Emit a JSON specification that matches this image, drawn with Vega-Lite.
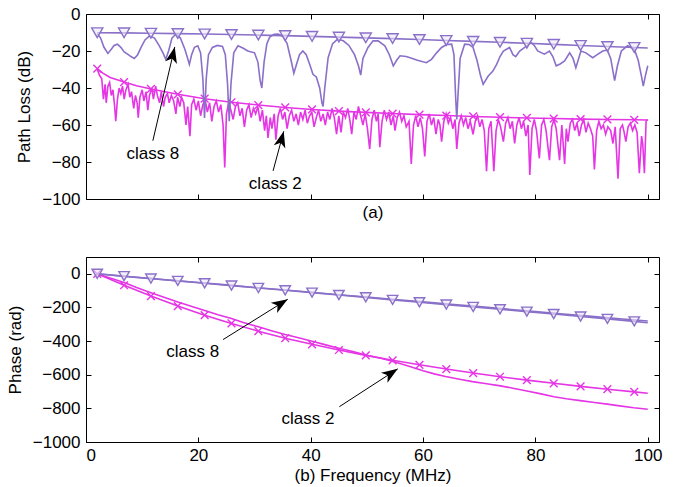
{
  "$schema": "https://vega.github.io/schema/vega-lite/v6.json",
  "padding": {"left": 5, "top": 4, "right": 14, "bottom": 2},
  "spacing": 35,
  "config": {
    "view": {"stroke": "black", "strokeWidth": 1},
    "font": "Liberation Sans",
    "axis": {"labelFont": "Liberation Sans", "labelFontSize": 17, "titleFont": "Liberation Sans", "titleFontSize": 17, "titleFontWeight": "normal", "labelColor": "#000", "titleColor": "#000", "tickColor": "#000", "domain": false, "grid": false, "tickSize": -5, "labelPadding": 11, "labelOverlap": false, "format": "d", "tickCount": 12}
  },
  "datasets": {
    "c8tmeas": [
      {"f":2.0,"v":-10.5},{"f":2.6,"v":-13},{"f":3.2,"v":-18},{"f":3.9,"v":-21.3},{"f":4.5,"v":-19},{"f":5.0,"v":-17},{"f":5.6,"v":-16.3},{"f":6.2,"v":-18},{"f":6.8,"v":-20.5},{"f":7.4,"v":-21.7},{"f":8.0,"v":-23},{"f":8.6,"v":-24.1},{"f":9.2,"v":-22},{"f":9.8,"v":-18},{"f":10.5,"v":-14},{"f":11.3,"v":-11.8},{"f":12.2,"v":-13},{"f":13.0,"v":-17},{"f":13.7,"v":-21},{"f":14.2,"v":-24.5},{"f":14.7,"v":-20},{"f":15.3,"v":-13},{"f":16.0,"v":-10.9},{"f":16.8,"v":-13},{"f":17.6,"v":-19},{"f":18.1,"v":-24},{"f":18.4,"v":-27.2},{"f":18.8,"v":-22},{"f":19.3,"v":-18},{"f":19.9,"v":-17.2},{"f":20.4,"v":-21},{"f":20.8,"v":-35},{"f":21.1,"v":-56.2},{"f":21.4,"v":-35},{"f":21.8,"v":-22},{"f":22.5,"v":-18.1},{"f":23.4,"v":-17},{"f":24.3,"v":-17.5},{"f":24.8,"v":-22},{"f":25.2,"v":-38},{"f":25.5,"v":-58},{"f":25.8,"v":-38},{"f":26.3,"v":-21},{"f":27.05,"v":-17.2},{"f":28.0,"v":-18.5},{"f":28.8,"v":-20},{"f":30.0,"v":-21},{"f":30.6,"v":-26},{"f":31.0,"v":-36},{"f":31.3,"v":-40},{"f":31.7,"v":-26},{"f":32.2,"v":-16},{"f":32.7,"v":-12.5},{"f":33.5,"v":-11},{"f":34.2,"v":-10.9},{"f":35.0,"v":-12},{"f":35.8,"v":-16},{"f":36.5,"v":-25},{"f":37.0,"v":-32},{"f":37.4,"v":-28},{"f":38.0,"v":-22},{"f":38.6,"v":-20},{"f":39.2,"v":-22},{"f":39.8,"v":-27},{"f":40.4,"v":-32.6},{"f":41.0,"v":-34},{"f":41.6,"v":-40},{"f":42.0,"v":-48},{"f":42.2,"v":-50},{"f":42.5,"v":-40},{"f":43.1,"v":-23.6},{"f":43.9,"v":-16},{"f":44.8,"v":-13.6},{"f":45.8,"v":-14.5},{"f":46.8,"v":-17},{"f":47.8,"v":-22},{"f":48.5,"v":-28},{"f":48.9,"v":-33},{"f":49.3,"v":-24},{"f":50.2,"v":-18.1},{"f":51.1,"v":-14.5},{"f":52.0,"v":-14.5},{"f":53.2,"v":-17.2},{"f":54.0,"v":-22},{"f":54.7,"v":-28},{"f":55.3,"v":-25},{"f":55.9,"v":-22.6},{"f":57.0,"v":-23},{"f":57.7,"v":-23.6},{"f":59.0,"v":-25},{"f":60.6,"v":-26.3},{"f":61.5,"v":-24.5},{"f":62.4,"v":-21},{"f":63.3,"v":-18.1},{"f":64.2,"v":-16.5},{"f":65.1,"v":-16.3},{"f":65.5,"v":-22},{"f":65.8,"v":-45},{"f":66.0,"v":-57},{"f":66.2,"v":-45},{"f":66.6,"v":-24},{"f":67.4,"v":-16.3},{"f":68.2,"v":-16.5},{"f":68.9,"v":-18.1},{"f":69.6,"v":-25},{"f":70.2,"v":-33},{"f":70.7,"v":-38},{"f":71.6,"v":-33.5},{"f":72.4,"v":-31},{"f":73.1,"v":-27.2},{"f":73.7,"v":-23},{"f":74.3,"v":-20},{"f":75.4,"v":-18.1},{"f":76.0,"v":-22},{"f":76.5,"v":-23},{"f":77.2,"v":-20},{"f":78.1,"v":-18},{"f":79.2,"v":-15.4},{"f":79.8,"v":-17},{"f":80.4,"v":-20},{"f":81.6,"v":-21.7},{"f":82.5,"v":-20},{"f":83.1,"v":-23},{"f":83.7,"v":-28},{"f":84.4,"v":-27},{"f":85.2,"v":-25.4},{"f":86.1,"v":-21},{"f":86.7,"v":-24},{"f":87.2,"v":-29},{"f":87.7,"v":-24},{"f":88.1,"v":-20},{"f":89.0,"v":-21},{"f":90.2,"v":-23.6},{"f":91.0,"v":-22},{"f":92.0,"v":-20},{"f":92.8,"v":-19.5},{"f":93.4,"v":-24},{"f":94.1,"v":-36},{"f":94.6,"v":-28},{"f":95.3,"v":-20},{"f":96.4,"v":-17.2},{"f":97.6,"v":-19},{"f":98.3,"v":-25},{"f":98.9,"v":-34},{"f":99.2,"v":-39},{"f":99.6,"v":-33},{"f":100,"v":-28}
    ],
    "c8tmod": [
      {"f":2,"v":-10.1,"mk":1},{"f":6.78,"v":-10.2,"mk":1},{"f":11.56,"v":-10.4,"mk":1},{"f":16.34,"v":-10.6,"mk":1},{"f":21.12,"v":-10.8,"mk":1},{"f":25.9,"v":-11.1,"mk":1},{"f":30.68,"v":-11.4,"mk":1},{"f":35.46,"v":-11.7,"mk":1},{"f":40.24,"v":-12.1,"mk":1},{"f":45.02,"v":-12.5,"mk":1},{"f":49.8,"v":-12.9,"mk":1},{"f":54.58,"v":-13.3,"mk":1},{"f":59.36,"v":-13.8,"mk":1},{"f":64.14,"v":-14.3,"mk":1},{"f":68.92,"v":-14.8,"mk":1},{"f":73.7,"v":-15.3,"mk":1},{"f":78.48,"v":-15.8,"mk":1},{"f":83.26,"v":-16.4,"mk":1},{"f":88.04,"v":-17.0,"mk":1},{"f":92.82,"v":-17.6,"mk":1},{"f":97.6,"v":-18.1,"mk":1},{"f":100,"v":-18.4,"mk":0}
    ],
    "c2tmeas": [
      {"f":2.0,"v":-30},{"f":2.4,"v":-33},{"f":2.8,"v":-35},{"f":3.1,"v":-46},{"f":3.4,"v":-38},{"f":3.6,"v":-48},{"f":3.9,"v":-39},{"f":4.2,"v":-37},{"f":4.5,"v":-44},{"f":4.8,"v":-41},{"f":5.1,"v":-50},{"f":5.3,"v":-58},{"f":5.6,"v":-46},{"f":5.9,"v":-40},{"f":6.2,"v":-43},{"f":6.5,"v":-39},{"f":6.8,"v":-46},{"f":7.1,"v":-41},{"f":7.5,"v":-38},{"f":7.8,"v":-45},{"f":8.1,"v":-42},{"f":8.5,"v":-51},{"f":8.8,"v":-44},{"f":9.1,"v":-48},{"f":9.3,"v":-56},{"f":9.6,"v":-45},{"f":10.0,"v":-41},{"f":10.3,"v":-47},{"f":10.7,"v":-42},{"f":11.0,"v":-52},{"f":11.3,"v":-44},{"f":11.7,"v":-40},{"f":12.0,"v":-46},{"f":12.4,"v":-39},{"f":12.7,"v":-44},{"f":13.1,"v":-48},{"f":13.4,"v":-42},{"f":13.8,"v":-50},{"f":14.1,"v":-45},{"f":14.5,"v":-43},{"f":14.8,"v":-48},{"f":15.2,"v":-44},{"f":15.6,"v":-47},{"f":16.0,"v":-54},{"f":16.3,"v":-45},{"f":16.7,"v":-50},{"f":17.0,"v":-45},{"f":17.4,"v":-48},{"f":17.8,"v":-60},{"f":18.1,"v":-50},{"f":18.5,"v":-66},{"f":18.8,"v":-49},{"f":19.2,"v":-46},{"f":19.6,"v":-52},{"f":20.0,"v":-47},{"f":20.4,"v":-55},{"f":20.8,"v":-49},{"f":21.2,"v":-46},{"f":21.6,"v":-53},{"f":22.0,"v":-48},{"f":22.4,"v":-58},{"f":22.8,"v":-50},{"f":23.2,"v":-47},{"f":23.6,"v":-53},{"f":24.0,"v":-49},{"f":24.4,"v":-60},{"f":24.7,"v":-83},{"f":25.0,"v":-54},{"f":25.4,"v":-48},{"f":25.8,"v":-52},{"f":26.2,"v":-57},{"f":26.6,"v":-50},{"f":27.0,"v":-48},{"f":27.4,"v":-55},{"f":27.8,"v":-51},{"f":28.2,"v":-61},{"f":28.6,"v":-52},{"f":29.0,"v":-49},{"f":29.4,"v":-56},{"f":29.8,"v":-51},{"f":30.2,"v":-54},{"f":30.6,"v":-50},{"f":31.0,"v":-58},{"f":31.4,"v":-52},{"f":31.8,"v":-63},{"f":32.1,"v":-55},{"f":32.4,"v":-67},{"f":32.8,"v":-56},{"f":33.1,"v":-62},{"f":33.5,"v":-54},{"f":33.8,"v":-68},{"f":34.2,"v":-55},{"f":34.6,"v":-51},{"f":35.0,"v":-57},{"f":35.4,"v":-53},{"f":35.8,"v":-62},{"f":36.2,"v":-55},{"f":36.6,"v":-52},{"f":37.0,"v":-58},{"f":37.4,"v":-54},{"f":37.8,"v":-60},{"f":38.2,"v":-53},{"f":38.6,"v":-57},{"f":39.0,"v":-52},{"f":39.4,"v":-59},{"f":39.8,"v":-55},{"f":40.2,"v":-53},{"f":40.6,"v":-61},{"f":41.0,"v":-56},{"f":41.4,"v":-52},{"f":41.8,"v":-58},{"f":42.2,"v":-54},{"f":42.6,"v":-60},{"f":43.0,"v":-53},{"f":43.4,"v":-57},{"f":43.8,"v":-51},{"f":44.2,"v":-56},{"f":44.6,"v":-65},{"f":45.0,"v":-55},{"f":45.4,"v":-64},{"f":45.8,"v":-53},{"f":46.2,"v":-56},{"f":46.6,"v":-51},{"f":47.0,"v":-58},{"f":47.3,"v":-65},{"f":47.7,"v":-53},{"f":48.1,"v":-57},{"f":48.5,"v":-50},{"f":48.9,"v":-55},{"f":49.3,"v":-60},{"f":49.7,"v":-54},{"f":50.1,"v":-62},{"f":50.5,"v":-73},{"f":50.9,"v":-57},{"f":51.3,"v":-52},{"f":51.7,"v":-58},{"f":52.0,"v":-54},{"f":52.3,"v":-72},{"f":52.7,"v":-58},{"f":53.1,"v":-52},{"f":53.5,"v":-57},{"f":53.9,"v":-53},{"f":54.3,"v":-60},{"f":54.7,"v":-55},{"f":55.0,"v":-63},{"f":55.4,"v":-56},{"f":55.8,"v":-53},{"f":56.2,"v":-58},{"f":56.6,"v":-55},{"f":57.0,"v":-61},{"f":57.5,"v":-58},{"f":57.9,"v":-81},{"f":58.3,"v":-60},{"f":58.7,"v":-55},{"f":59.1,"v":-61},{"f":59.5,"v":-56},{"f":59.9,"v":-62},{"f":60.3,"v":-77},{"f":60.7,"v":-58},{"f":61.1,"v":-54},{"f":61.5,"v":-60},{"f":61.9,"v":-56},{"f":62.3,"v":-65},{"f":62.7,"v":-57},{"f":63.0,"v":-60},{"f":63.3,"v":-69},{"f":63.7,"v":-58},{"f":64.1,"v":-54},{"f":64.5,"v":-59},{"f":64.9,"v":-56},{"f":65.3,"v":-62},{"f":65.7,"v":-57},{"f":66.0,"v":-73},{"f":66.4,"v":-59},{"f":66.8,"v":-55},{"f":67.2,"v":-60},{"f":67.6,"v":-56},{"f":68.0,"v":-62},{"f":68.4,"v":-58},{"f":68.9,"v":-65},{"f":69.3,"v":-58},{"f":69.7,"v":-55},{"f":70.1,"v":-61},{"f":70.5,"v":-57},{"f":70.9,"v":-63},{"f":71.3,"v":-85},{"f":71.7,"v":-62},{"f":72.1,"v":-58},{"f":72.6,"v":-85},{"f":73.0,"v":-63},{"f":73.4,"v":-57},{"f":73.8,"v":-61},{"f":74.3,"v":-69},{"f":74.7,"v":-59},{"f":75.1,"v":-56},{"f":75.5,"v":-62},{"f":75.9,"v":-58},{"f":76.3,"v":-70},{"f":76.7,"v":-60},{"f":77.1,"v":-56},{"f":77.5,"v":-62},{"f":77.9,"v":-58},{"f":78.3,"v":-66},{"f":78.7,"v":-60},{"f":79.0,"v":-87},{"f":79.4,"v":-62},{"f":79.8,"v":-57},{"f":80.2,"v":-63},{"f":80.7,"v":-78},{"f":81.1,"v":-60},{"f":81.5,"v":-57},{"f":81.9,"v":-63},{"f":82.5,"v":-79},{"f":82.9,"v":-61},{"f":83.3,"v":-57},{"f":83.7,"v":-62},{"f":84.3,"v":-79},{"f":84.7,"v":-60},{"f":85.2,"v":-81},{"f":85.5,"v":-62},{"f":85.8,"v":-69},{"f":86.2,"v":-59},{"f":86.6,"v":-57},{"f":87.0,"v":-63},{"f":87.4,"v":-59},{"f":87.8,"v":-66},{"f":88.2,"v":-60},{"f":88.6,"v":-57},{"f":89.0,"v":-64},{"f":89.4,"v":-59},{"f":89.8,"v":-62},{"f":90.2,"v":-66},{"f":90.5,"v":-84},{"f":90.9,"v":-63},{"f":91.3,"v":-58},{"f":91.7,"v":-62},{"f":92.1,"v":-60},{"f":92.5,"v":-65},{"f":92.9,"v":-61},{"f":93.4,"v":-63},{"f":93.8,"v":-70},{"f":94.2,"v":-61},{"f":94.7,"v":-89},{"f":95.1,"v":-62},{"f":95.5,"v":-60},{"f":95.8,"v":-64},{"f":96.1,"v":-69},{"f":96.5,"v":-61},{"f":96.9,"v":-59},{"f":97.3,"v":-63},{"f":97.7,"v":-60},{"f":98.1,"v":-64},{"f":98.5,"v":-86},{"f":98.9,"v":-66},{"f":99.1,"v":-70},{"f":99.4,"v":-86},{"f":99.7,"v":-58},{"f":100,"v":-57}
    ],
    "c2tmod": [
      {"f":2,"v":-29.5,"mk":1},{"f":3,"v":-32,"mk":0},{"f":4.3,"v":-34.3,"mk":0},{"f":6.78,"v":-36.8,"mk":1},{"f":9,"v":-38.8,"mk":0},{"f":11.56,"v":-40.5,"mk":1},{"f":16.34,"v":-43.4,"mk":1},{"f":21.12,"v":-45.8,"mk":1},{"f":25.9,"v":-47.7,"mk":1},{"f":30.68,"v":-49.2,"mk":1},{"f":35.46,"v":-50.5,"mk":1},{"f":40.24,"v":-51.6,"mk":1},{"f":45.02,"v":-52.5,"mk":1},{"f":49.8,"v":-53.2,"mk":1},{"f":54.58,"v":-53.8,"mk":1},{"f":59.36,"v":-54.4,"mk":1},{"f":64.14,"v":-54.9,"mk":1},{"f":68.92,"v":-55.4,"mk":1},{"f":73.7,"v":-55.8,"mk":1},{"f":78.48,"v":-56.2,"mk":1},{"f":83.26,"v":-56.5,"mk":1},{"f":88.04,"v":-56.8,"mk":1},{"f":92.82,"v":-57.0,"mk":1},{"f":97.6,"v":-57.2,"mk":1},{"f":100,"v":-57.3,"mk":0}
    ],
    "anntop": [
      {"label":"class 8","tx":11.9,"ty":-75.7,"x0":11.9,"y0":-68.5,"x1":15.8,"y1":-17.8},
      {"label":"class 2","tx":33.7,"ty":-91.8,"x0":33.3,"y0":-84.8,"x1":35.2,"y1":-63.4}
    ],
    "c8bmod": [
      {"f":2,"v":0,"mk":1},{"f":6.78,"v":-14,"mk":1},{"f":11.56,"v":-28,"mk":1},{"f":16.34,"v":-42,"mk":1},{"f":21.12,"v":-56,"mk":1},{"f":25.9,"v":-70,"mk":1},{"f":30.68,"v":-84,"mk":1},{"f":35.46,"v":-98,"mk":1},{"f":40.24,"v":-112,"mk":1},{"f":45.02,"v":-126,"mk":1},{"f":49.8,"v":-140,"mk":1},{"f":54.58,"v":-155,"mk":1},{"f":59.36,"v":-169,"mk":1},{"f":64.14,"v":-183,"mk":1},{"f":68.92,"v":-197,"mk":1},{"f":73.7,"v":-211,"mk":1},{"f":78.48,"v":-225,"mk":1},{"f":83.26,"v":-239,"mk":1},{"f":88.04,"v":-254,"mk":1},{"f":92.82,"v":-268,"mk":1},{"f":97.6,"v":-283,"mk":1},{"f":100,"v":-291,"mk":0}
    ],
    "c8bmeas": [
      {"f":2,"v":0},{"f":5,"v":-9},{"f":10,"v":-24},{"f":15,"v":-38},{"f":20,"v":-52},{"f":25,"v":-66},{"f":30,"v":-81},{"f":35,"v":-95},{"f":40,"v":-110},{"f":45,"v":-124},{"f":50,"v":-138},{"f":55,"v":-153},{"f":60,"v":-167},{"f":65,"v":-181},{"f":70,"v":-195},{"f":75,"v":-210},{"f":80,"v":-224},{"f":85,"v":-239},{"f":90,"v":-253},{"f":95,"v":-267},{"f":100,"v":-281}
    ],
    "c2bmod": [
      {"f":2,"v":0,"mk":1},{"f":6.78,"v":-68,"mk":1},{"f":11.56,"v":-132,"mk":1},{"f":16.34,"v":-192,"mk":1},{"f":21.12,"v":-246,"mk":1},{"f":25.9,"v":-295,"mk":1},{"f":30.68,"v":-341,"mk":1},{"f":35.46,"v":-383,"mk":1},{"f":40.24,"v":-419,"mk":1},{"f":45.02,"v":-453,"mk":1},{"f":49.8,"v":-485,"mk":1},{"f":54.58,"v":-514,"mk":1},{"f":59.36,"v":-541,"mk":1},{"f":64.14,"v":-566,"mk":1},{"f":68.92,"v":-590,"mk":1},{"f":73.7,"v":-612,"mk":1},{"f":78.48,"v":-632,"mk":1},{"f":83.26,"v":-651,"mk":1},{"f":88.04,"v":-669,"mk":1},{"f":92.82,"v":-686,"mk":1},{"f":97.6,"v":-702,"mk":1},{"f":100,"v":-710,"mk":0}
    ],
    "c2bmeas": [
      {"f":2,"v":0},{"f":4,"v":-22},{"f":6.78,"v":-52},{"f":9,"v":-82},{"f":11.56,"v":-112},{"f":14,"v":-141},{"f":16.34,"v":-168},{"f":19,"v":-196},{"f":21.12,"v":-218},{"f":23.5,"v":-243},{"f":25.9,"v":-266},{"f":28,"v":-290},{"f":30.68,"v":-315},{"f":33,"v":-338},{"f":35.46,"v":-361},{"f":38,"v":-382},{"f":40.24,"v":-401},{"f":42.5,"v":-421},{"f":45,"v":-442},{"f":47.5,"v":-462},{"f":50,"v":-484},{"f":52.5,"v":-502},{"f":55,"v":-524},{"f":57.5,"v":-550},{"f":60,"v":-576},{"f":62,"v":-595},{"f":64,"v":-611},{"f":66.5,"v":-627},{"f":68.8,"v":-641},{"f":71,"v":-652},{"f":73.5,"v":-665},{"f":76,"v":-680},{"f":78.5,"v":-697},{"f":81,"v":-714},{"f":83.3,"v":-731},{"f":85.5,"v":-743},{"f":88,"v":-754},{"f":90.5,"v":-765},{"f":92.8,"v":-775},{"f":95,"v":-785},{"f":97.5,"v":-796},{"f":100,"v":-805}
    ],
    "annbot": [
      {"label":"class 8","tx":19.0,"ty":-467,"x0":24.4,"y0":-391,"x1":35.9,"y1":-151.5},
      {"label":"class 2","tx":39.5,"ty":-865,"x0":45.1,"y0":-790,"x1":55.5,"y1":-565}
    ]
  },
  "vconcat": [
    {
      "width": 573, "height": 185,
      "layer": [
        {"layer": [
          {"data": {"name": "c2tmeas"}, "mark": {"type": "line", "color": "#e535e5", "strokeWidth": 1.6, "clip": true},
           "encoding": {
             "x": {"field": "f", "type": "quantitative", "scale": {"domain": [0, 102], "nice": false, "zero": false}, "axis": {"values": [0, 20, 40, 60, 80, 100], "tickCount": 12, "labels": false, "title": "(a)", "titlePadding": 5, "labelOverlap": false}},
             "y": {"field": "v", "type": "quantitative", "scale": {"domain": [-100, 0], "nice": false, "zero": false}, "axis": {"values": [-100, -80, -60, -40, -20, 0], "tickCount": 12, "title": "Path Loss (dB)", "titlePadding": 8, "labelOverlap": false}}}},
          {"data": {"name": "c2tmod"}, "mark": {"type": "line", "color": "#e535e5", "strokeWidth": 1.6, "clip": true},
           "encoding": {"x": {"field": "f", "type": "quantitative"}, "y": {"field": "v", "type": "quantitative"}}},
          {"data": {"name": "c2tmod"}, "transform": [{"filter": "datum.mk == 1"}], "mark": {"type": "point", "shape": "M-1,-1L1,1M-1,1L1,-1", "color": "#e535e5", "size": 60, "strokeWidth": 1.4, "opacity": 1, "filled": false},
           "encoding": {"x": {"field": "f", "type": "quantitative"}, "y": {"field": "v", "type": "quantitative"}}},
          {"data": {"name": "c8tmeas"}, "mark": {"type": "line", "color": "#8a70c8", "strokeWidth": 1.6, "clip": true},
           "encoding": {"x": {"field": "f", "type": "quantitative"}, "y": {"field": "v", "type": "quantitative"}}},
          {"data": {"name": "c8tmod"}, "mark": {"type": "line", "color": "#8a70c8", "strokeWidth": 1.6, "clip": true},
           "encoding": {"x": {"field": "f", "type": "quantitative"}, "y": {"field": "v", "type": "quantitative"}}},
          {"data": {"name": "c8tmod"}, "transform": [{"filter": "datum.mk == 1"}], "mark": {"type": "point", "shape": "triangle-down", "stroke": "#8a70c8", "fill": "#ece7f6", "fillOpacity": 0.6, "size": 125, "strokeWidth": 1.4, "opacity": 1, "filled": true},
           "encoding": {"x": {"field": "f", "type": "quantitative"}, "y": {"field": "v", "type": "quantitative"}}},
          {"data": {"name": "anntop"}, "mark": {"type": "rule", "color": "black", "strokeWidth": 1},
           "encoding": {"x": {"field": "x0", "type": "quantitative"}, "y": {"field": "y0", "type": "quantitative"}, "x2": {"field": "x1"}, "y2": {"field": "y1"}}},
          {"data": {"name": "anntop"}, "transform": [{"filter": "datum.label === 'class 8'"}], "mark": {"type": "point", "shape": "M0,0L0.7,1.9L0,1.4L-0.7,1.9Z", "filled": true, "color": "black", "opacity": 1, "size": 290, "angle": 13, "strokeWidth": 0},
           "encoding": {"x": {"field": "x1", "type": "quantitative"}, "y": {"field": "y1", "type": "quantitative"}}},
          {"data": {"name": "anntop"}, "transform": [{"filter": "datum.label === 'class 2'"}], "mark": {"type": "point", "shape": "M0,0L0.7,1.9L0,1.4L-0.7,1.9Z", "filled": true, "color": "black", "opacity": 1, "size": 290, "angle": 15, "strokeWidth": 0},
           "encoding": {"x": {"field": "x1", "type": "quantitative"}, "y": {"field": "y1", "type": "quantitative"}}},
          {"data": {"name": "anntop"}, "mark": {"type": "text", "font": "Liberation Sans", "fontSize": 17, "color": "black"},
           "encoding": {"x": {"field": "tx", "type": "quantitative"}, "y": {"field": "ty", "type": "quantitative"}, "text": {"field": "label"}}}
        ]},
        {"data": {"name": "c8tmod"}, "mark": {"type": "point", "opacity": 0},
         "encoding": {
           "x": {"field": "f", "type": "quantitative", "scale": {"domain": [0, 102], "nice": false, "zero": false}, "axis": {"orient": "top", "values": [0, 20, 40, 60, 80, 100], "tickCount": 12, "labels": false, "title": null}},
           "y": {"field": "v", "type": "quantitative", "scale": {"domain": [-100, 0], "nice": false, "zero": false}, "axis": {"orient": "right", "values": [-100, -80, -60, -40, -20, 0], "tickCount": 12, "labels": false, "title": null}}}}
      ],
      "resolve": {"axis": {"x": "independent", "y": "independent"}}
    },
    {
      "width": 573, "height": 185,
      "layer": [
        {"layer": [
          {"data": {"name": "c2bmeas"}, "mark": {"type": "line", "color": "#e535e5", "strokeWidth": 1.6, "clip": true},
           "encoding": {
             "x": {"field": "f", "type": "quantitative", "scale": {"domain": [0, 102], "nice": false, "zero": false}, "axis": {"values": [0, 20, 40, 60, 80, 100], "tickCount": 12, "title": "(b) Frequency (MHz)", "titlePadding": 4, "labelPadding": 10, "labelOverlap": false}},
             "y": {"field": "v", "type": "quantitative", "scale": {"domain": [-1000, 100], "nice": false, "zero": false}, "axis": {"values": [-1000, -800, -600, -400, -200, 0], "tickCount": 12, "title": "Phase (rad)", "titlePadding": 8, "labelOverlap": false}}}},
          {"data": {"name": "c2bmod"}, "mark": {"type": "line", "color": "#e535e5", "strokeWidth": 1.6, "clip": true},
           "encoding": {"x": {"field": "f", "type": "quantitative"}, "y": {"field": "v", "type": "quantitative"}}},
          {"data": {"name": "c2bmod"}, "transform": [{"filter": "datum.mk == 1"}], "mark": {"type": "point", "shape": "M-1,-1L1,1M-1,1L1,-1", "color": "#e535e5", "size": 60, "strokeWidth": 1.4, "opacity": 1, "filled": false},
           "encoding": {"x": {"field": "f", "type": "quantitative"}, "y": {"field": "v", "type": "quantitative"}}},
          {"data": {"name": "c8bmeas"}, "mark": {"type": "line", "color": "#8a70c8", "strokeWidth": 1.6, "clip": true},
           "encoding": {"x": {"field": "f", "type": "quantitative"}, "y": {"field": "v", "type": "quantitative"}}},
          {"data": {"name": "c8bmod"}, "mark": {"type": "line", "color": "#8a70c8", "strokeWidth": 1.6, "clip": true},
           "encoding": {"x": {"field": "f", "type": "quantitative"}, "y": {"field": "v", "type": "quantitative"}}},
          {"data": {"name": "c8bmod"}, "transform": [{"filter": "datum.mk == 1"}], "mark": {"type": "point", "shape": "triangle-down", "stroke": "#8a70c8", "fill": "#ece7f6", "fillOpacity": 0.6, "size": 110, "strokeWidth": 1.4, "opacity": 1, "filled": true},
           "encoding": {"x": {"field": "f", "type": "quantitative"}, "y": {"field": "v", "type": "quantitative"}}},
          {"data": {"name": "annbot"}, "mark": {"type": "rule", "color": "black", "strokeWidth": 1},
           "encoding": {"x": {"field": "x0", "type": "quantitative"}, "y": {"field": "y0", "type": "quantitative"}, "x2": {"field": "x1"}, "y2": {"field": "y1"}}},
          {"data": {"name": "annbot"}, "transform": [{"filter": "datum.label === 'class 8'"}], "mark": {"type": "point", "shape": "M0,0L0.7,1.9L0,1.4L-0.7,1.9Z", "filled": true, "color": "black", "opacity": 1, "size": 290, "angle": 58, "strokeWidth": 0},
           "encoding": {"x": {"field": "x1", "type": "quantitative"}, "y": {"field": "y1", "type": "quantitative"}}},
          {"data": {"name": "annbot"}, "transform": [{"filter": "datum.label === 'class 2'"}], "mark": {"type": "point", "shape": "M0,0L0.7,1.9L0,1.4L-0.7,1.9Z", "filled": true, "color": "black", "opacity": 1, "size": 290, "angle": 57, "strokeWidth": 0},
           "encoding": {"x": {"field": "x1", "type": "quantitative"}, "y": {"field": "y1", "type": "quantitative"}}},
          {"data": {"name": "annbot"}, "mark": {"type": "text", "font": "Liberation Sans", "fontSize": 17, "color": "black"},
           "encoding": {"x": {"field": "tx", "type": "quantitative"}, "y": {"field": "ty", "type": "quantitative"}, "text": {"field": "label"}}}
        ]},
        {"data": {"name": "c8bmod"}, "mark": {"type": "point", "opacity": 0},
         "encoding": {
           "x": {"field": "f", "type": "quantitative", "scale": {"domain": [0, 102], "nice": false, "zero": false}, "axis": {"orient": "top", "values": [0, 20, 40, 60, 80, 100], "tickCount": 12, "labels": false, "title": null}},
           "y": {"field": "v", "type": "quantitative", "scale": {"domain": [-1000, 100], "nice": false, "zero": false}, "axis": {"orient": "right", "values": [-1000, -800, -600, -400, -200, 0], "tickCount": 12, "labels": false, "title": null}}}}
      ],
      "resolve": {"axis": {"x": "independent", "y": "independent"}}
    }
  ]
}
